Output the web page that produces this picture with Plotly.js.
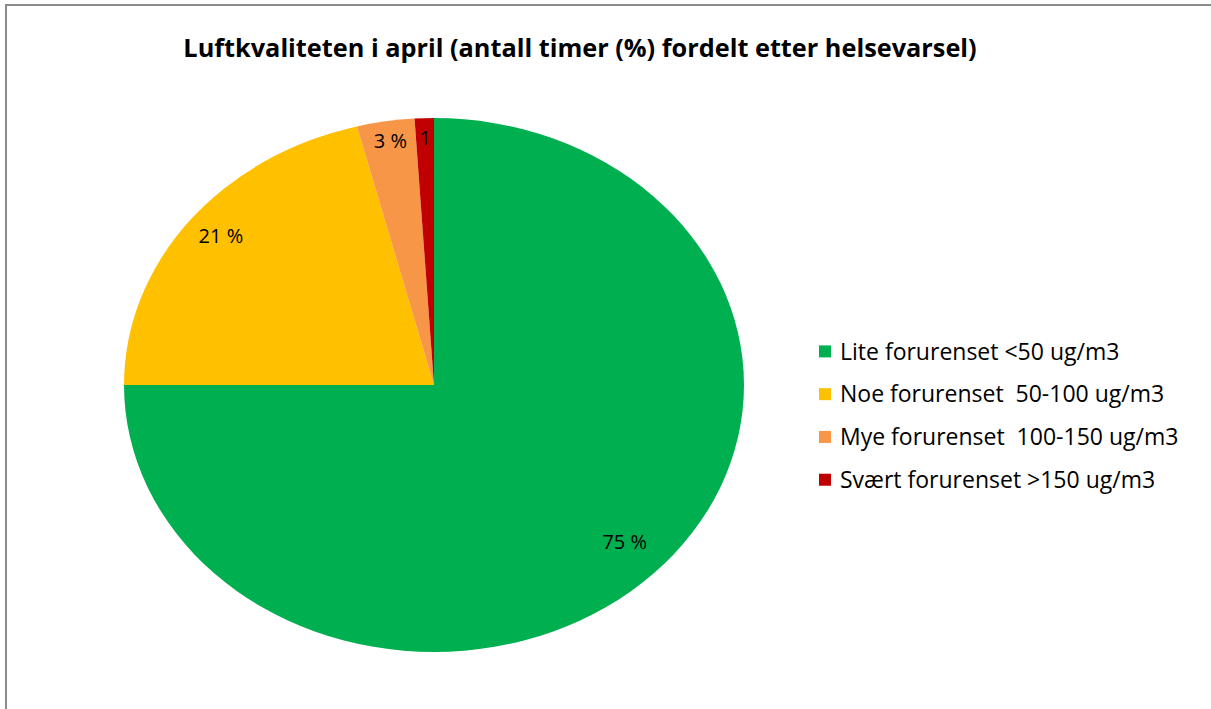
<!DOCTYPE html>
<html>
<head>
<meta charset="utf-8">
<script src="https://cdn.plot.ly/plotly-3.0.1.min.js"></script>
<style>
  html, body { margin: 0; padding: 0; background: #fff; }
  #wrap { position: relative; width: 1211px; height: 709px; overflow: hidden; }
  #frame { position: absolute; left: 5px; top: 4px; right: -10px; bottom: -10px;
           border-left: 2px solid #8c8c8c; border-top: 2px solid #8c8c8c; pointer-events: none; }
  #chart { position: absolute; left: 0; top: 0; width: 1211px; height: 709px; }
</style>
</head>
<body>
<div id="wrap">
  <div id="chart"></div>
  <div id="frame"></div>
</div>
<script>
// ---- data ----
const categories = [
  "Lite forurenset <50 ug/m3",
  "Noe forurenset  50-100 ug/m3",
  "Mye forurenset  100-150 ug/m3",
  "Svært forurenset >150 ug/m3"
];
const values = [75, 21, 3, 1];
const colors = ["#00B050", "#FFC000", "#F79646", "#C00000"];
const labelTemplates = ["%{value} %", "%{value} %", "%{value} %", "%{value}"];
const chartTitle = "Luftkvaliteten i april (antall timer (%) fordelt etter helsevarsel)";

// ---- styling / geometry ----
const W = 1211, H = 709;
const cx = 434, cy = 385, ry = 267, rx = 310;
const labelRadiusFrac = [0.87, 0.87, 0.9, 0.9];   // radial placement of the slice labels
const legendFontLayout = 30.6;  // sets row pitch
const legendFontShown = 23;

const trace = {
  type: "pie",
  labels: categories,
  values: values,
  sort: false,
  direction: "clockwise",
  rotation: 0,
  marker: { colors: colors, line: { width: 0 } },
  texttemplate: labelTemplates,
  textposition: "inside",
  insidetextorientation: "horizontal",
  textfont: { family: "Open Sans, sans-serif", size: 20, color: "#000" },
  hoverinfo: "label+percent",
  domain: {
    x: [(cx - ry) / W, (cx + ry) / W],
    y: [(H - cy - ry) / H, (H - cy + ry) / H]
  }
};

const layout = {
  width: W, height: H,
  margin: { l: 0, r: 0, t: 0, b: 0, autoexpand: false },
  paper_bgcolor: "#fff",
  showlegend: true,
  title: {
    text: "<b>" + chartTitle + "</b>",
    font: { family: "Open Sans, sans-serif", size: 25.3, color: "#000" },
    x: 580 / W, xanchor: "center",
    y: 1 - 48 / H, yanchor: "middle"
  },
  legend: {
    x: 805 / W, xanchor: "left",
    y: 1 - 325 / H, yanchor: "top",
    font: { family: "Open Sans, sans-serif", size: legendFontLayout, color: "#000" },
    bgcolor: "rgba(0,0,0,0)"
  }
};

Plotly.newPlot("chart", [trace], layout, { displayModeBar: false, staticPlot: true }).then(gd => {
  const sx = rx / ry;
  const cd0 = gd.calcdata[0][0];
  const pcx = cd0.cx, pcy = cd0.cy, r = cd0.r;
  const total = values.reduce((a, b) => a + b, 0);

  // stretch the pie horizontally into the ellipse of the original
  const g = gd.querySelector(".pielayer .trace");
  if (g) {
    g.setAttribute("transform", `translate(${pcx},${pcy}) scale(${sx},1) translate(${-pcx},${-pcy})`);
    let cum = 0;
    g.querySelectorAll("g.slice").forEach((s, i) => {
      const v = values[i];
      const mid = (cum + v / 2) / total * 2 * Math.PI;
      cum += v;
      const t = s.querySelector("g.slicetext text");
      if (!t) return;
      const f = labelRadiusFrac[i];
      const tx = pcx + r * f * Math.sin(mid);
      const ty = pcy - r * f * Math.cos(mid);
      let tr = t.getAttribute("transform") || "";
      tr = tr.replace(/scale\([^)]*\)/g, "");
      tr = tr.replace(/translate\(([^,)]+)[, ]([^)]+)\)/, `translate(${tx},${ty})`);
      t.setAttribute("transform", tr + ` scale(${1 / sx},1)`);
    });
  }

  // legend text size (row pitch comes from the layout font size)
  gd.querySelectorAll(".legend .traces text.legendtext").forEach(t => {
    t.style.fontSize = legendFontShown + "px";
    t.setAttribute("x", 35);
    t.setAttribute("y", (legendFontShown * 0.36).toFixed(1));
  });
});
</script>
</body>
</html>
